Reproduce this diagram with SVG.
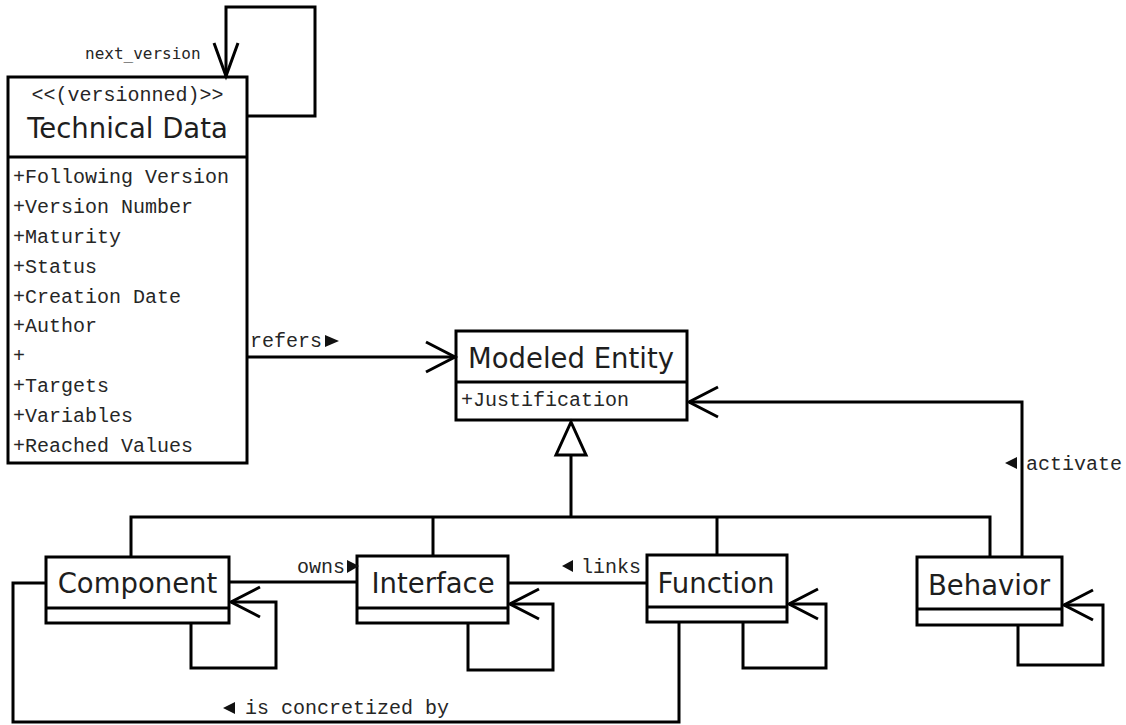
<svg xmlns="http://www.w3.org/2000/svg" width="1126" height="725" viewBox="0 0 1126 725">
  <style>
    .box { fill: #fff; stroke: #000; stroke-width: 3; }
    .sep { fill: none; stroke: #000; stroke-width: 3; }
    .edge { fill: none; stroke: #000; stroke-width: 3; stroke-linejoin: miter; }
    .name { font-family: "DejaVu Sans", "Noto Sans", sans-serif; font-size: 27.5px; fill: #1e1e1e; text-anchor: middle; }
    .attr { font-family: "Liberation Mono", "DejaVu Sans Mono", monospace; font-size: 20px; fill: #262626; }
    .role { font-family: "DejaVu Sans Mono", monospace; font-size: 16px; fill: #262626; }
    .dir { fill: #111; }
  </style>
  <defs>
    <marker id="open" markerUnits="userSpaceOnUse" markerWidth="44" markerHeight="44" viewBox="-34 -22 44 44" refX="0" refY="0" orient="auto">
      <path d="M-29,-15 L0,0 L-29,15" fill="none" stroke="#000" stroke-width="3"/>
    </marker>
    <marker id="open-long" markerUnits="userSpaceOnUse" markerWidth="44" markerHeight="44" viewBox="-38 -22 44 44" refX="0" refY="0" orient="auto">
      <path d="M-33,-12 L0,0 L-33,12" fill="none" stroke="#000" stroke-width="3"/>
    </marker>
  </defs>
  <rect width="1126" height="725" fill="#fff"/>

  <!-- classes -->
  <g id="technical-data">
    <rect class="box" x="8" y="77" width="239" height="386"/>
    <line class="sep" x1="8" y1="157" x2="247" y2="157"/>
    <text class="attr" x="127.5" y="101" text-anchor="middle">&lt;&lt;(versionned)&gt;&gt;</text>
    <text class="name" x="127.5" y="138">Technical Data</text>
    <text class="attr" x="13" y="183">+Following Version</text>
    <text class="attr" x="13" y="213">+Version Number</text>
    <text class="attr" x="13" y="243">+Maturity</text>
    <text class="attr" x="13" y="273">+Status</text>
    <text class="attr" x="13" y="303">+Creation Date</text>
    <text class="attr" x="13" y="332">+Author</text>
    <text class="attr" x="13" y="362">+</text>
    <text class="attr" x="13" y="392">+Targets</text>
    <text class="attr" x="13" y="422">+Variables</text>
    <text class="attr" x="13" y="452">+Reached Values</text>
  </g>

  <g id="modeled-entity">
    <rect class="box" x="456" y="331" width="231" height="89"/>
    <line class="sep" x1="456" y1="382" x2="687" y2="382"/>
    <text class="name" x="571" y="368">Modeled Entity</text>
    <text class="attr" x="461" y="406">+Justification</text>
  </g>

  <g id="component">
    <rect class="box" x="46" y="557" width="183" height="66"/>
    <line class="sep" x1="46" y1="608" x2="229" y2="608"/>
    <text class="name" x="137.5" y="593">Component</text>
  </g>

  <g id="interface">
    <rect class="box" x="357" y="556" width="151" height="67"/>
    <line class="sep" x1="357" y1="608" x2="508" y2="608"/>
    <text class="name" x="433" y="593">Interface</text>
  </g>

  <g id="function">
    <rect class="box" x="647" y="555" width="140" height="67"/>
    <line class="sep" x1="647" y1="607" x2="787" y2="607"/>
    <text class="name" x="716" y="593">Function</text>
  </g>

  <g id="behavior">
    <rect class="box" x="917" y="557" width="145" height="68"/>
    <line class="sep" x1="917" y1="609" x2="1062" y2="609"/>
    <text class="name" x="989" y="595">Behavior</text>
  </g>

  <!-- associations and generalization -->
  <g id="connectors">
    <!-- next_version self association -->
    <path class="edge" d="M247,116 H315 V7 H226 V76" marker-end="url(#open-long)"/>
    <text class="role" x="85" y="59">next_version</text>

    <!-- refers -->
    <path class="edge" d="M247,357 H455" marker-end="url(#open)"/>
    <text class="attr" x="250" y="347">refers</text>
    <polygon class="dir" points="325,335 339,341 325,347"/>

    <!-- activate -->
    <path class="edge" d="M1022,557 V402 H689" marker-end="url(#open)"/>
    <polygon class="dir" points="1017,457 1005,463 1017,469"/>
    <text class="attr" x="1026" y="470">activate</text>

    <!-- generalization towards Modeled Entity -->
    <path class="edge" d="M571,455 V517"/>
    <path class="edge" d="M131,557 V517 H990 V557"/>
    <path class="edge" d="M433,517 V556"/>
    <path class="edge" d="M717,517 V555"/>
    <polygon points="571,422 556,455 586,455" fill="#fff" stroke="#000" stroke-width="3" stroke-linejoin="miter"/>

    <!-- owns -->
    <path class="edge" d="M229,582 H357"/>
    <text class="attr" x="297" y="573">owns</text>
    <polygon class="dir" points="347,560 359,566 347,573"/>

    <!-- links -->
    <path class="edge" d="M508,583 H647"/>
    <polygon class="dir" points="573,560 562,566 573,572"/>
    <text class="attr" x="581" y="573">links</text>

    <!-- is concretized by -->
    <path class="edge" d="M679,622 V722 H13 V583 H46"/>
    <polygon class="dir" points="235,702 223,708 235,714"/>
    <text class="attr" x="245" y="714">is concretized by</text>

    <!-- self associations -->
    <path class="edge" d="M191,623 V668 H276 V602 H231" marker-end="url(#open)"/>
    <path class="edge" d="M468,623 V670 H553 V604 H510" marker-end="url(#open)"/>
    <path class="edge" d="M743,622 V668 H826 V604 H789" marker-end="url(#open)"/>
    <path class="edge" d="M1018,625 V665 H1103 V605 H1064" marker-end="url(#open)"/>
  </g>
</svg>
